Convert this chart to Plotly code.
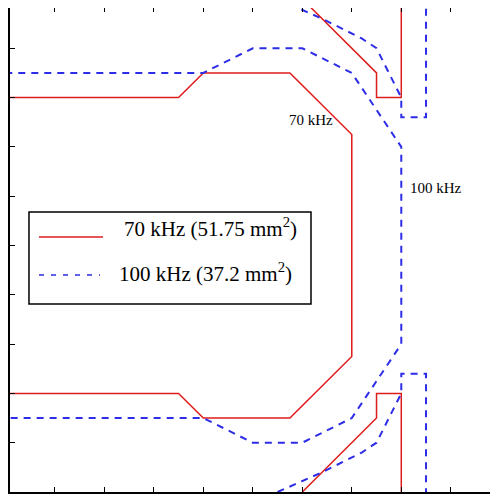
import plotly.graph_objects as go

# ---- data (contour outlines) ----
red_main_x = [0, 3.5, 4, 5.75, 7, 7, 5.75, 4, 3.5, 0]
red_main_y = [8, 8, 8.5, 8.5, 7.25, 2.75, 1.5, 1.5, 2, 2]
red_top_x = [6, 7.5, 7.5, 8, 8]
red_top_y = [10, 8.5, 8, 8, 10]
red_bot_x = [6, 7.5, 7.5, 8, 8]
red_bot_y = [0, 1.5, 2, 2, 0]

blue_main_x = [0, 4, 5, 6, 7, 8, 8, 7, 6, 5, 4, 0]
blue_main_y = [8.5, 8.5, 9, 9, 8.5, 7, 3, 1.5, 1, 1, 1.5, 1.5]
blue_top_x = [5.5, 6.4, 7.2, 7.5, 8, 8, 8.5, 8.5]
blue_top_y = [10, 9.6, 9.2, 9, 8, 7.6, 7.6, 10]
blue_bot_x = [5.5, 6.4, 7.2, 7.5, 8, 8, 8.5, 8.5]
blue_bot_y = [0, 0.4, 0.8, 1, 2, 2.4, 2.4, 0]

legend_labels = ["70 kHz (51.75 mm<sup>2</sup>)", "100 kHz (37.2 mm<sup>2</sup>)"]
contour_labels = ["70 kHz", "100 kHz"]

RED = "rgb(222,28,28)"
BLUE = "rgb(45,45,232)"
FONT = "Times New Roman, Liberation Serif, serif"

fig = go.Figure()
for xs, ys in [(red_main_x, red_main_y), (red_top_x, red_top_y), (red_bot_x, red_bot_y)]:
    fig.add_trace(go.Scatter(x=xs, y=ys, mode="lines", showlegend=False, hoverinfo="skip",
                             line=dict(color=RED, width=1.5)))
for xs, ys in [(blue_main_x, blue_main_y), (blue_top_x, blue_top_y), (blue_bot_x, blue_bot_y)]:
    fig.add_trace(go.Scatter(x=xs, y=ys, mode="lines", showlegend=False, hoverinfo="skip",
                             line=dict(color=BLUE, width=2, dash="7px,6px")))
# empty trace for mirrored tick axes
fig.add_trace(go.Scatter(x=[], y=[], xaxis="x2", yaxis="y2", showlegend=False, hoverinfo="skip"))

xr = [0.095, 9.954]
yr = [0, 9.817]
common = dict(dtick=1, tick0=0, showticklabels=False, showgrid=False, zeroline=False,
              tickcolor="black", tickwidth=1.2)
fig.update_layout(
    width=490, height=489,
    margin=dict(l=2, r=0, t=0, b=5),
    paper_bgcolor="white", plot_bgcolor="white",
    showlegend=False,
    xaxis=dict(range=xr, ticks="inside", ticklen=5, showline=True, linecolor="black",
               linewidth=2, **common),
    yaxis=dict(range=yr, ticks="inside", ticklen=5, showline=True, linecolor="black",
               linewidth=2, **common),
    xaxis2=dict(range=xr, ticks="inside", ticklen=4, showline=False,
                overlaying="x", side="top", anchor="y", **common),
    yaxis2=dict(range=yr, ticks="inside", ticklen=5, showline=False,
                overlaying="y", side="right", anchor="x", **common),
)

# contour labels
fig.add_annotation(x=6.17, y=7.54, text=contour_labels[0], showarrow=False,
                   font=dict(family=FONT, size=15, color="black"))
fig.add_annotation(x=8.71, y=6.17, text=contour_labels[1], showarrow=False,
                   font=dict(family=FONT, size=15, color="black"))

# legend box
fig.add_shape(type="rect", xref="paper", yref="paper", x0=0.0389, x1=0.6168, y0=0.3884, y1=0.5785,
              line=dict(color="black", width=1.5), fillcolor="white", layer="above")
fig.add_shape(type="line", xref="paper", yref="paper", x0=0.0594, x1=0.1906, y0=0.5269, y1=0.5269,
              line=dict(color=RED, width=1.5), layer="above")
fig.add_shape(type="line", xref="paper", yref="paper", x0=0.0594, x1=0.1844, y0=0.4483, y1=0.4483,
              line=dict(color=BLUE, width=1.5, dash="5px,7px"), layer="above")
fig.add_annotation(xref="paper", yref="paper", x=0.2295, y=0.5455, xanchor="left", yanchor="middle",
                   text=legend_labels[0], showarrow=False,
                   font=dict(family=FONT, size=21, color="black"))
fig.add_annotation(xref="paper", yref="paper", x=0.2193, y=0.4525, xanchor="left", yanchor="middle",
                   text=legend_labels[1], showarrow=False,
                   font=dict(family=FONT, size=21, color="black"))

fig.write_html("out.html")
